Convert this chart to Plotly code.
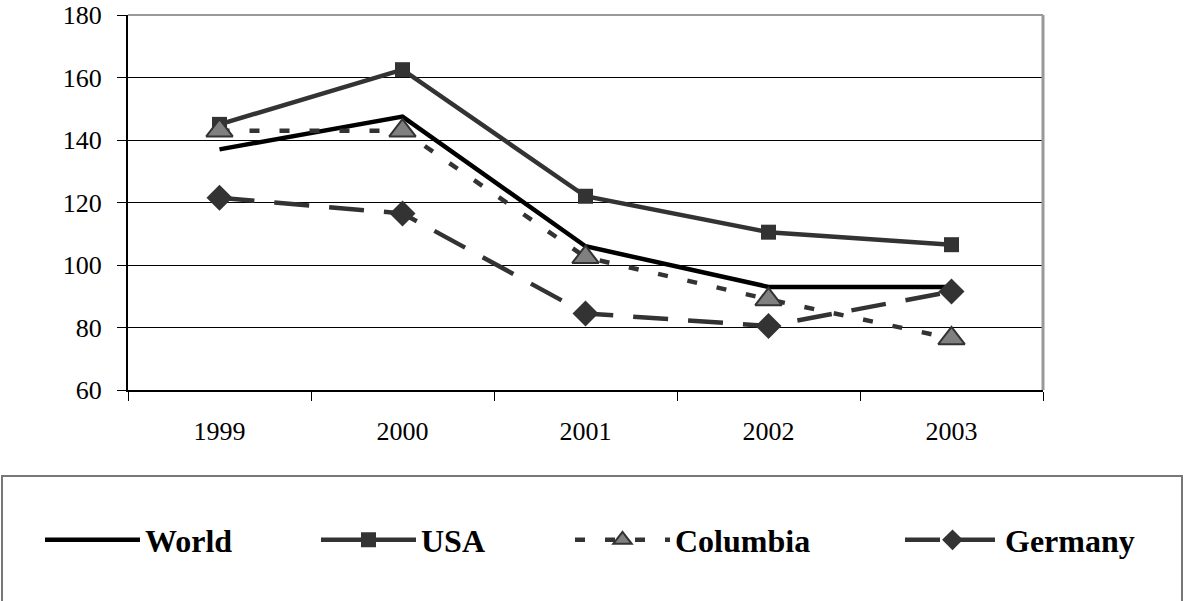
import plotly.graph_objects as go

years = ["1999", "2000", "2001", "2002", "2003"]
world = [137, 147.5, 106, 93, 93]
usa = [145, 162.5, 122, 110.5, 106.5]
columbia = [143, 143, 102.5, 89, 76.5]
germany = [121.5, 116.5, 84.5, 80.5, 91.5]
y_ticks = [60, 80, 100, 120, 140, 160, 180]

FONT = "'Liberation Serif', 'Times New Roman', Times, serif"
DARK = "#333333"

fig = go.Figure()
fig.add_trace(go.Scatter(x=years, y=world, name="World", mode="lines", legend="legend",
                         line=dict(color="black", width=4.5)))
fig.add_trace(go.Scatter(x=years, y=usa, name="USA", mode="lines+markers", legend="legend",
                         line=dict(color=DARK, width=4.5),
                         marker=dict(symbol="square", size=15, color=DARK)))
fig.add_trace(go.Scatter(x=years, y=columbia, name="Columbia", mode="lines+markers",
                         legend="legend2",
                         line=dict(color=DARK, width=4.5, dash="10px,20px"),
                         marker=dict(symbol="triangle-up", size=23, color="#808080",
                                     line=dict(color=DARK, width=2))))
fig.add_trace(go.Scatter(x=years, y=germany, name="Germany", mode="lines+markers",
                         legend="legend2",
                         line=dict(color=DARK, width=4.5, dash="35px,20px"),
                         marker=dict(symbol="diamond", size=20, color=DARK)))

W, H = 1184, 601
PL, PR, PT, PB = 128, 1043, 15, 390   # plot area in px
pw = PR - PL
ph = PB - PT
L, T = PL, PT
R = W - L - pw
B = H - T - ph

def px_x(x):
    return (x - PL) / pw

def px_y(y):
    return (PB - y) / ph

legend_font = dict(family=FONT, size=32, color="black", weight="bold")
common_leg = dict(orientation="h", yanchor="middle", xanchor="left",
                  font=legend_font, itemwidth=95, bgcolor="rgba(0,0,0,0)",
                  traceorder="normal")

fig.update_layout(
    width=W, height=H,
    margin=dict(l=L, r=R, t=T, b=B, autoexpand=False),
    paper_bgcolor="white", plot_bgcolor="white",
    font=dict(family=FONT, size=26, color="black"),
    showlegend=True,
    legend=dict(x=px_x(40), y=px_y(540), entrywidth=166, **common_leg),
    legend2=dict(x=px_x(570), y=px_y(540), entrywidth=220, **common_leg),
    xaxis=dict(type="category", range=[-0.5, 4.5], showgrid=False,
               showline=True, linecolor="black", linewidth=2,
               ticks="outside", tickson="boundaries", ticklen=9, tickwidth=1,
               tickcolor="black", tickfont=dict(family=FONT, size=26), ticklabelstandoff=17,
               zeroline=False),
    yaxis=dict(range=[60, 180], tickvals=y_ticks, showgrid=True, gridcolor="black",
               gridwidth=1, showline=True, linecolor="black", linewidth=2,
               ticks="outside", ticklen=9, tickwidth=1, tickcolor="black",
               tickfont=dict(family=FONT, size=26), ticklabelstandoff=10,
               ticklabeloverflow="allow", zeroline=False),
    shapes=[
        dict(type="line", xref="paper", yref="paper", x0=0, x1=1, y0=1, y1=1,
             line=dict(color="#999999", width=2), layer="above"),
        dict(type="line", xref="paper", yref="paper", x0=1, x1=1, y0=0, y1=1,
             line=dict(color="#999999", width=3), layer="above"),
        dict(type="rect", xref="paper", yref="paper", x0=px_x(2), x1=px_x(1182),
             y0=px_y(476), y1=px_y(640), line=dict(color="#777777", width=2),
             layer="below"),
    ],
)

fig.write_html("out.html", config={"displayModeBar": False},
               post_script="document.body.style.margin='0';document.body.style.overflow='hidden';")
